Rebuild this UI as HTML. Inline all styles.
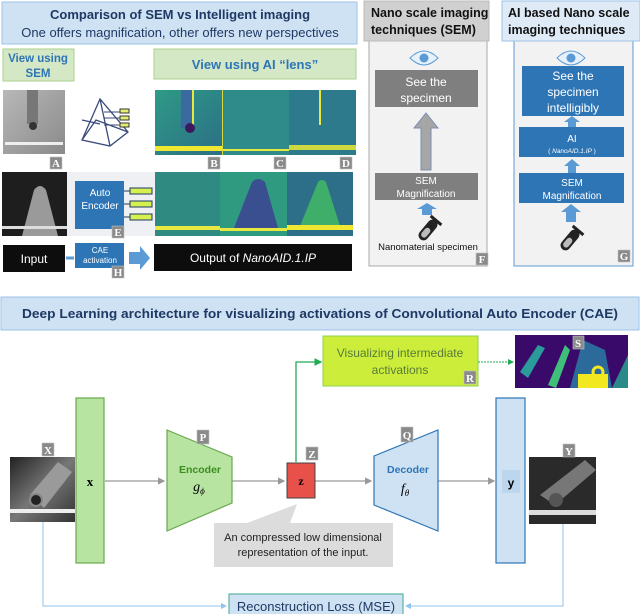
<!DOCTYPE html>
<html><head><meta charset="utf-8"><style>
html,body{margin:0;padding:0;background:#fff;width:640px;height:614px;overflow:hidden}
svg{display:block;font-family:"Liberation Sans",sans-serif}
.lb{fill:#8a8a8a;stroke:#c0c0c0;stroke-width:.6}
.lt{fill:#fff;font-family:"Liberation Serif",serif;font-weight:bold;font-size:11px;text-anchor:middle}
</style></head><body>
<svg width="640" height="614" viewBox="0 0 640 614" xmlns="http://www.w3.org/2000/svg">
<defs>
<marker id="ag" markerWidth="6" markerHeight="6" refX="5" refY="3" orient="auto"><path d="M0,0L6,3L0,6z" fill="#999"/></marker>
<marker id="agr" markerWidth="6" markerHeight="6" refX="5" refY="3" orient="auto"><path d="M0,0L6,3L0,6z" fill="#22aa55"/></marker>
<marker id="ab" markerWidth="6" markerHeight="6" refX="5" refY="3" orient="auto"><path d="M0,0L6,3L0,6z" fill="#8fc3ee"/></marker>
<linearGradient id="gA" x1="0" y1="0" x2="1" y2="1"><stop offset="0" stop-color="#b8b8b8"/><stop offset="1" stop-color="#8a8a8a"/></linearGradient>
<linearGradient id="gT" x1="0" y1="0" x2="1" y2="1"><stop offset="0" stop-color="#2f9a86"/><stop offset="1" stop-color="#2b6f86"/></linearGradient>
<linearGradient id="gX" x1="0" y1="0" x2="1" y2="1"><stop offset="0" stop-color="#222"/><stop offset="0.5" stop-color="#777"/><stop offset="1" stop-color="#333"/></linearGradient>
</defs>

<!-- Top-left header -->
<rect x="2" y="2" width="355" height="42" fill="#cfe2f3" stroke="#9dc3e6"/>
<text x="180" y="19" font-size="13" font-weight="bold" fill="#1f3864" text-anchor="middle">Comparison of SEM vs Intelligent imaging</text>
<text x="180" y="37" font-size="13" fill="#1f3864" text-anchor="middle">One offers magnification, other offers new perspectives</text>

<rect x="3" y="49" width="71" height="32" fill="#d5e8c5" stroke="#a9d18e"/>
<text x="38" y="62" font-size="11.5" font-weight="bold" fill="#2e75b6" text-anchor="middle">View using</text>
<text x="38" y="77" font-size="11.5" font-weight="bold" fill="#2e75b6" text-anchor="middle">SEM</text>
<rect x="154" y="49" width="202" height="30" fill="#d5e8c5" stroke="#a9d18e"/>
<text x="255" y="69" font-size="13" font-weight="bold" fill="#2e75b6" text-anchor="middle">View using AI “lens”</text>

<!-- Image A -->
<rect x="3" y="90" width="62" height="64" fill="url(#gA)"/>
<rect x="27" y="90" width="11" height="34" fill="#777"/>
<circle cx="33" cy="126" r="4" fill="#333"/>
<rect x="5" y="142" width="58" height="3" fill="#eee"/>
<rect x="50" y="157" width="12" height="12" class="lb"/><text x="56" y="167" class="lt">A</text>
<!-- pyramid -->
<g stroke="#3a4a7a" stroke-width="1.3" fill="none">
<path d="M100,99L82,140L110,146L128,132Z M100,99L110,146 M82,140L96,120L128,132 M82,120L100,124"/>
</g>
<g fill="#e3f070" stroke="#333" stroke-width="1"><rect x="120" y="109" width="9" height="4"/><rect x="120" y="116" width="9" height="4"/><rect x="120" y="123" width="9" height="4"/></g>
<path d="M104,112H120M104,118H120M104,125H120" stroke="#3a4a7a"/>

<!-- B C D -->
<rect x="155" y="90" width="67" height="65" fill="url(#gT)"/>
<rect x="181" y="90" width="12" height="38" fill="#3b6aa0"/><rect x="192" y="90" width="2" height="38" fill="#e8e840"/>
<circle cx="190" cy="128" r="5" fill="#3a1a5a"/>
<rect x="155" y="146" width="67" height="5" fill="#f0e830"/>
<rect x="222" y="90" width="67" height="65" fill="#2f8a8a"/>
<rect x="222" y="149" width="67" height="2" fill="#e8e840"/><rect x="222" y="90" width="1" height="65" fill="#d8d840"/>
<rect x="289" y="90" width="67" height="65" fill="#2d7a8c"/>
<rect x="289" y="145" width="67" height="5" fill="#d0d840"/><rect x="319" y="90" width="2" height="35" fill="#e8e840"/>
<rect x="208" y="157" width="12" height="12" class="lb"/><text x="214" y="167" class="lt">B</text>
<rect x="274" y="157" width="12" height="12" class="lb"/><text x="280" y="167" class="lt">C</text>
<rect x="340" y="157" width="12" height="12" class="lb"/><text x="346" y="167" class="lt">D</text>

<!-- row 2 -->
<rect x="2" y="172" width="65" height="64" fill="#1e1e1e"/>
<path d="M22,236L34,190Q40,182 46,190L58,236Z" fill="#9a9a9a"/>
<rect x="2" y="226" width="65" height="3" fill="#ddd"/>
<rect x="67" y="172" width="88" height="64" fill="#eef0f4"/>
<rect x="75" y="181" width="49" height="48" fill="#2e75b6"/>
<text x="100" y="196" font-size="10" fill="#fff" text-anchor="middle">Auto</text>
<text x="100" y="209" font-size="10" fill="#fff" text-anchor="middle">Encoder</text>
<g fill="#d6f050" stroke="#1f3864" stroke-width="1"><rect x="130" y="188" width="22" height="6"/><rect x="130" y="201" width="22" height="6"/><rect x="130" y="214" width="22" height="6"/></g>
<path d="M124,191H130M124,204H130M124,217H130" stroke="#1f3864"/>
<rect x="112" y="226" width="12" height="12" class="lb"/><text x="118" y="236" class="lt">E</text>
<rect x="155" y="172" width="65" height="64" fill="#2f8a82"/>
<rect x="155" y="226" width="65" height="4" fill="#e8e840"/>
<rect x="220" y="172" width="67" height="64" fill="#2f9a80"/>
<path d="M234,228L252,182Q258,176 265,182L278,228Z" fill="#3a4f8f"/>
<rect x="220" y="228" width="67" height="3" fill="#e8e840"/>
<rect x="287" y="172" width="66" height="64" fill="#2d6f88"/>
<path d="M300,226L318,182Q322,178 326,182L340,226Z" fill="#3fae6a"/>
<rect x="287" y="225" width="66" height="5" fill="#f0e830"/>

<!-- row 3 -->
<rect x="3" y="245" width="62" height="27" fill="#0d0d0d"/>
<text x="34" y="263" font-size="12" fill="#fff" text-anchor="middle">Input</text>
<path d="M66,258H74" stroke="#5b9bd5" stroke-width="3"/>
<rect x="75" y="243" width="49" height="25" fill="#2e75b6"/>
<text x="100" y="253" font-size="8" fill="#fff" text-anchor="middle">CAE</text>
<text x="100" y="263" font-size="8" fill="#fff" text-anchor="middle">activation</text>
<rect x="112" y="266" width="12" height="12" class="lb"/><text x="118" y="276" class="lt">H</text>
<path d="M129,252H140V246L150,258L140,270V264H129Z" fill="#5b9bd5"/>
<rect x="154" y="244" width="198" height="27" fill="#0d0d0d"/>
<text x="253" y="262" font-size="12" fill="#fff" text-anchor="middle">Output of <tspan font-style="italic">NanoAID.1.IP</tspan></text>

<!-- Panel F -->
<rect x="369" y="41" width="118" height="225" fill="#f2f2f2" stroke="#aaa"/>
<rect x="364" y="1" width="125" height="40" fill="#d0d0d0" stroke="#bbb"/>
<text x="371" y="17" font-size="12.5" font-weight="bold" fill="#111">Nano scale imaging</text>
<text x="371" y="34" font-size="12.5" font-weight="bold" fill="#111">techniques (SEM)</text>
<path d="M410,58Q424,44 438,58Q424,72 410,58Z" fill="#e6f1fb" stroke="#5b9bd5"/><circle cx="424" cy="58" r="4.5" fill="#5b9bd5"/>
<rect x="375" y="70" width="103" height="37" fill="#7f7f7f"/>
<text x="426" y="86" font-size="12" fill="#fff" text-anchor="middle">See the</text>
<text x="426" y="102" font-size="12" fill="#fff" text-anchor="middle">specimen</text>
<path d="M421,170V128H414L426,113L438,128H431V170Z" fill="#a6a6a6" stroke="#7a8fb0"/>
<rect x="375" y="173" width="103" height="27" fill="#7f7f7f"/>
<text x="426" y="184" font-size="10" fill="#fff" text-anchor="middle">SEM</text>
<text x="426" y="197" font-size="10" fill="#fff" text-anchor="middle">Magnification</text>
<path d="M422,215V209H417L427,203L437,209H432V215Z" fill="#5b9bd5"/>
<g transform="translate(428,230) rotate(40)"><rect x="-5" y="-12" width="10" height="24" rx="5" fill="#222"/><rect x="-3" y="-2" width="6" height="11" rx="3" fill="#bbb"/><rect x="-7" y="-14" width="14" height="3" fill="#222"/></g>
<text x="428" y="250" font-size="9.5" fill="#111" text-anchor="middle">Nanomaterial specimen</text>
<rect x="476" y="253" width="12" height="12" class="lb"/><text x="482" y="263" class="lt">F</text>

<!-- Panel G -->
<rect x="514" y="41" width="119" height="225" fill="#f2f2f2" stroke="#5b9bd5"/>
<rect x="502" y="1" width="138" height="40" fill="#deebf7" stroke="#9dc3e6"/>
<text x="508" y="17" font-size="12.5" font-weight="bold" fill="#111">AI based Nano scale</text>
<text x="508" y="34" font-size="12.5" font-weight="bold" fill="#111">imaging techniques</text>
<path d="M557,58Q571,44 585,58Q571,72 557,58Z" fill="#e6f1fb" stroke="#5b9bd5"/><circle cx="571" cy="58" r="4.5" fill="#5b9bd5"/>
<rect x="522" y="66" width="102" height="50" fill="#2e75b6"/>
<text x="573" y="80" font-size="12" fill="#fff" text-anchor="middle">See the</text>
<text x="573" y="96" font-size="12" fill="#fff" text-anchor="middle">specimen</text>
<text x="573" y="112" font-size="12" fill="#fff" text-anchor="middle">intelligibly</text>
<path d="M568,127V122H564L572,116L580,122H576V127Z" fill="#5b9bd5"/>
<rect x="519" y="127" width="105" height="30" fill="#2e75b6"/>
<text x="572" y="142" font-size="10" fill="#fff" text-anchor="middle">AI</text>
<text x="572" y="153" font-size="6.5" fill="#fff" text-anchor="middle">( <tspan font-style="italic">NanoAID.1.IP</tspan> )</text>
<path d="M568,173V166H564L572,159L580,166H576V173Z" fill="#5b9bd5"/>
<rect x="519" y="173" width="105" height="30" fill="#2e75b6"/>
<text x="572" y="186" font-size="10" fill="#fff" text-anchor="middle">SEM</text>
<text x="572" y="199" font-size="10" fill="#fff" text-anchor="middle">Magnification</text>
<path d="M566,222V212H561L571,204L581,212H576V222Z" fill="#5b9bd5"/>
<g transform="translate(570,240) rotate(40)"><rect x="-5" y="-12" width="10" height="24" rx="5" fill="#222"/><rect x="-3" y="-2" width="6" height="11" rx="3" fill="#bbb"/><rect x="-7" y="-14" width="14" height="3" fill="#222"/></g>
<rect x="618" y="250" width="12" height="12" class="lb"/><text x="624" y="260" class="lt">G</text>

<!-- Bottom header -->
<rect x="1" y="297" width="638" height="33" fill="#cfe2f3" stroke="#9dc3e6"/>
<text x="320" y="318" font-size="13" font-weight="bold" fill="#1f3864" text-anchor="middle" textLength="596" lengthAdjust="spacingAndGlyphs">Deep Learning architecture for visualizing activations of Convolutional Auto Encoder (CAE)</text>

<!-- R & S -->
<rect x="323" y="336" width="155" height="50" fill="#ccee3a" stroke="#8fd14f"/>
<text x="400" y="357" font-size="12" fill="#5a7a3a" text-anchor="middle">Visualizing intermediate</text>
<text x="400" y="374" font-size="12" fill="#5a7a3a" text-anchor="middle">activations</text>
<rect x="464" y="371" width="12" height="13" class="lb"/><text x="470" y="382" class="lt">R</text>
<rect x="515" y="335" width="113" height="53" fill="#3a0a6a"/>
<path d="M520,372L538,345L545,348L528,378Z" fill="#2a9a9a"/>
<path d="M548,385L565,345L570,350L556,388Z" fill="#3fbf7a"/>
<path d="M570,388L583,340L605,350L612,388Z" fill="#2b6a9a"/>
<rect x="578" y="374" width="30" height="14" fill="#f2e820"/>
<circle cx="598" cy="372" r="5" fill="none" stroke="#f2e820" stroke-width="3"/>
<path d="M612,388L628,355V388Z" fill="#2a8a8a"/>
<rect x="573" y="336" width="11" height="13" class="lb"/><text x="578" y="347" class="lt">S</text>
<path d="M478,362H513" stroke="#22aa55" stroke-dasharray="2,1" marker-end="url(#agr)"/>
<path d="M296,462V362H321" stroke="#22aa55" stroke-width="1.3" fill="none" marker-end="url(#agr)"/>

<!-- X image & x bar -->
<rect x="10" y="457" width="65" height="65" fill="url(#gX)"/>
<path d="M30,495L58,462L72,472L44,508Z" fill="#9a9a9a"/>
<circle cx="36" cy="500" r="6" fill="#222" stroke="#888" stroke-width="2"/>
<rect x="10" y="509" width="65" height="4" fill="#eee"/>
<rect x="42" y="443" width="12" height="13" class="lb"/><text x="48" y="454" class="lt">X</text>
<rect x="76" y="398" width="28" height="165" fill="#b7e4a0" stroke="#6aa84f" stroke-width="1.2"/>
<text x="90" y="486" font-size="13" font-weight="bold" font-family="Liberation Serif,serif" text-anchor="middle">x</text>

<g stroke="#999" stroke-width="1.2" fill="none">
<path d="M105,481H164" marker-end="url(#ag)"/>
<path d="M232,481H284" marker-end="url(#ag)"/>
<path d="M315,481H371" marker-end="url(#ag)"/>
<path d="M438,481H494" marker-end="url(#ag)"/>
</g>

<!-- Encoder -->
<path d="M167,430L232,457V503L167,531Z" fill="#b7e4a0" stroke="#6aa84f" stroke-width="1.2"/>
<text x="200" y="473" font-size="10.5" font-weight="bold" fill="#3c8c20" text-anchor="middle">Encoder</text>
<text x="199" y="491" font-size="14" font-style="italic" font-family="Liberation Serif,serif" text-anchor="middle">g<tspan font-size="9" dy="3">ϕ</tspan></text>
<rect x="197" y="430" width="12" height="14" class="lb"/><text x="203" y="441" class="lt">P</text>

<!-- z -->
<rect x="287" y="463" width="28" height="35" fill="#e8504a" stroke="#444"/>
<text x="301" y="485" font-size="12" font-weight="bold" font-family="Liberation Serif,serif" text-anchor="middle">z</text>
<rect x="306" y="447" width="12" height="13" class="lb"/><text x="312" y="458" class="lt">Z</text>
<path d="M247,523L297,504L290,523Z" fill="#dcdcdc"/>
<rect x="214" y="523" width="179" height="44" fill="#dcdcdc"/>
<text x="303" y="541" font-size="11" fill="#222" text-anchor="middle">An compressed low dimensional</text>
<text x="303" y="556" font-size="11" fill="#222" text-anchor="middle">representation of the input.</text>

<!-- Decoder -->
<path d="M374,456L438,430V531L374,505Z" fill="#cfe2f3" stroke="#2e75b6" stroke-width="1.2"/>
<text x="408" y="473" font-size="10.5" font-weight="bold" fill="#2e75b6" text-anchor="middle">Decoder</text>
<text x="405" y="493" font-size="14" font-style="italic" font-family="Liberation Serif,serif" text-anchor="middle">f<tspan font-size="9" dy="3">θ</tspan></text>
<rect x="401" y="427" width="12" height="15" class="lb"/><text x="407" y="439" class="lt">Q</text>

<!-- y bar & Y image -->
<rect x="496" y="398" width="29" height="165" fill="#cfe2f3" stroke="#2e75b6" stroke-width="1.2"/>
<rect x="502" y="470" width="18" height="23" fill="#bcd6ee"/>
<text x="511" y="487" font-size="12" font-weight="bold" text-anchor="middle">y</text>
<rect x="529" y="457" width="67" height="67" fill="#2a2a2a"/>
<path d="M540,495L585,460L596,470L555,505Z" fill="#777"/>
<circle cx="556" cy="500" r="7" fill="#555"/>
<rect x="529" y="510" width="67" height="5" fill="#ddd"/>
<rect x="563" y="444" width="12" height="13" class="lb"/><text x="569" y="455" class="lt">Y</text>

<!-- loss -->
<path d="M43,522V606H226" stroke="#8fc3ee" fill="none" marker-end="url(#ab)"/>
<path d="M563,524V606H406" stroke="#8fc3ee" fill="none" marker-end="url(#ab)"/>
<rect x="229" y="594" width="174" height="22" fill="#cfe2f3" stroke="#5bb5a0" stroke-width="1.2"/>
<text x="316" y="611" font-size="13" fill="#1f3864" text-anchor="middle">Reconstruction Loss (MSE)</text>
</svg>
</body></html>
